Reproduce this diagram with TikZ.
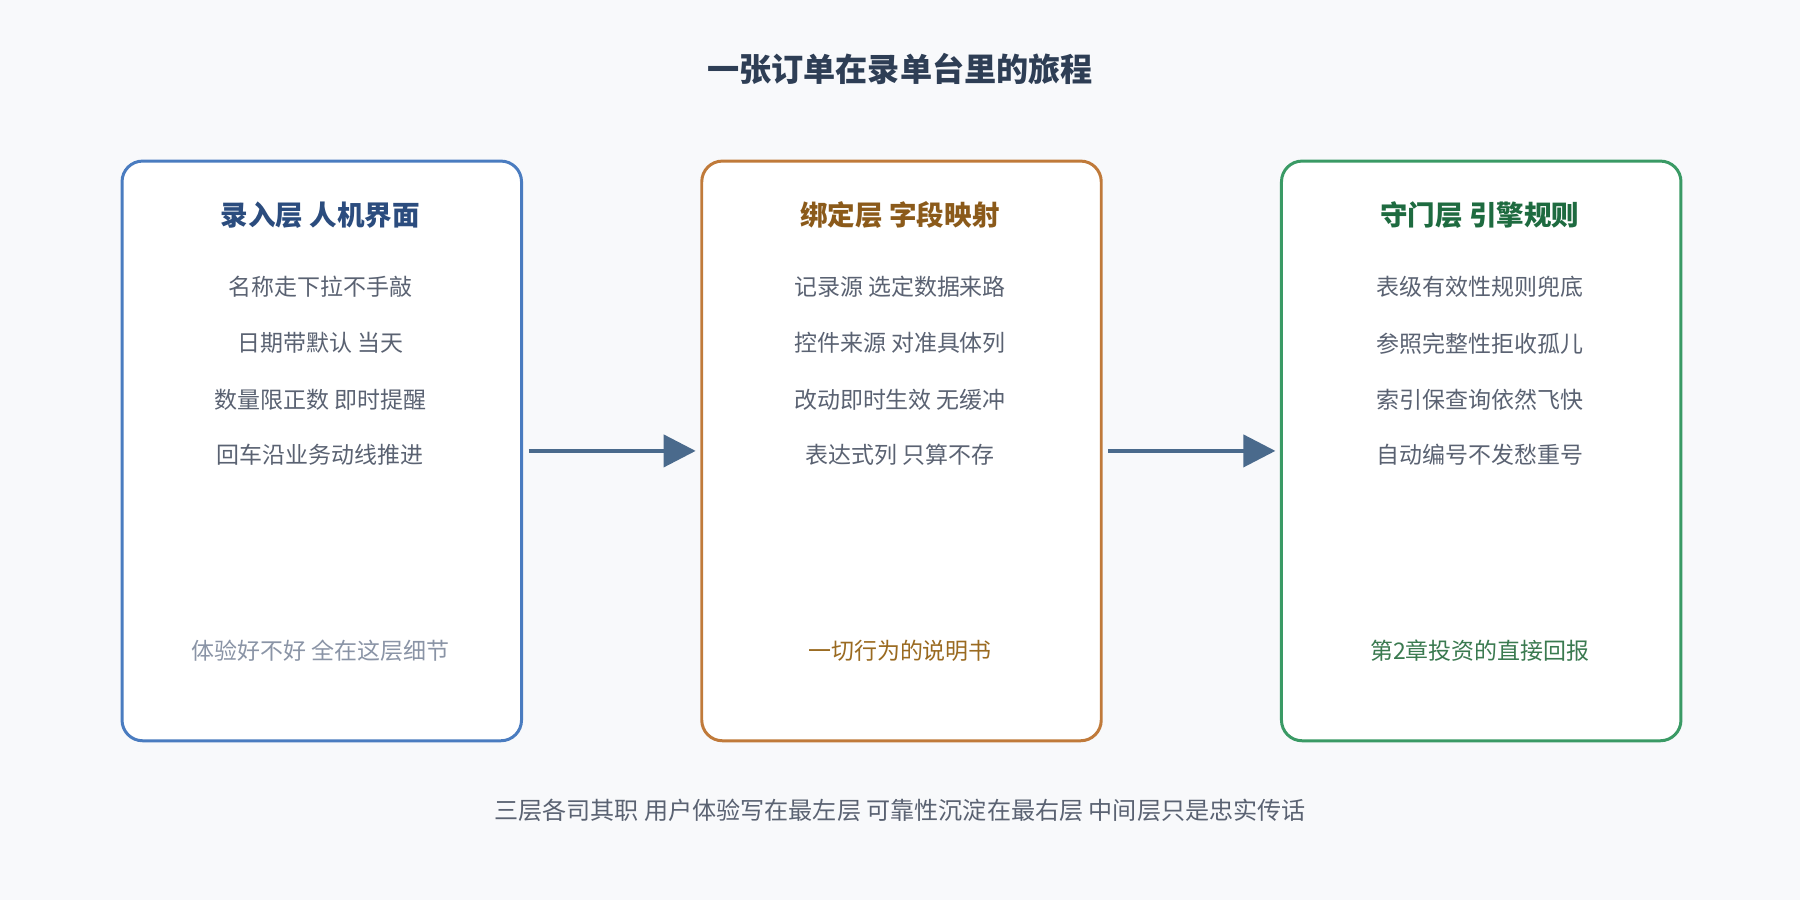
\documentclass[tikz,border=0pt]{standalone}
\usepackage{fontspec}
\setmainfont{Noto Sans CJK SC}
\usetikzlibrary{arrows.meta}
\definecolor{bg}{HTML}{F8F9FB}
\definecolor{bB}{HTML}{4A7CC0}\definecolor{tB}{HTML}{2B4C7E}
\definecolor{bO}{HTML}{C07A3A}\definecolor{tO}{HTML}{8B5A1A}
\definecolor{bG}{HTML}{3A9A65}\definecolor{tG}{HTML}{1E6B40}
\definecolor{txt}{HTML}{5A6272}
\definecolor{ttl}{HTML}{2E3E55}
\definecolor{nB}{HTML}{8A94A6}\definecolor{nO}{HTML}{9A6A20}\definecolor{nG}{HTML}{3A7A50}
\definecolor{arr}{HTML}{4A6A8C}
\tikzset{
 box/.style={draw=#1,line width=2.6pt,rounded corners=18pt,fill=white,minimum width=348pt,minimum height=505pt,anchor=north west},
 head/.style={font=\fontsize{24}{28}\selectfont\bfseries,text=#1},
 item/.style={font=\fontsize{20}{24}\selectfont,text=txt},
 note/.style={font=\fontsize{20}{24}\selectfont,text=#1},
 flow/.style={draw=arr,line width=3.5pt,-{Triangle[length=28pt,width=28pt]}}
}
\begin{document}
\begin{tikzpicture}[x=1pt,y=-1pt]
\useasboundingbox[fill=bg] (0,0) rectangle (1568,784);
\node[font=\fontsize{28}{32}\selectfont\bfseries,text=ttl] (title) at (784,60) {一张订单在录单台里的旅程};
\foreach \n/\x/\c/\h/\a/\b/\cc/\d/\nc/\nt in {
 L/105/B/录入层 人机界面/名称走下拉不手敲/日期带默认 当天/数量限正数 即时提醒/回车沿业务动线推进/nB/体验好不好 全在这层细节,
 M/610/O/绑定层 字段映射/记录源 选定数据来路/控件来源 对准具体列/改动即时生效 无缓冲/表达式列 只算不存/nO/一切行为的说明书,
 R/1115/G/守门层 引擎规则/表级有效性规则兜底/参照完整性拒收孤儿/索引保查询依然飞快/自动编号不发愁重号/nG/第2章投资的直接回报}{
 \node[box=b\c] (\n) at (\x,139) {};
 \node[head=t\c] (\n h) at (\x+174,187) {\h};
 \node[item] (\n1) at (\x+174,250) {\a};
 \node[item] (\n2) at (\x+174,299) {\b};
 \node[item] (\n3) at (\x+174,348) {\cc};
 \node[item] (\n4) at (\x+174,396) {\d};
 \node[note=\nc] (\n n) at (\x+174,567) {\nt};
}
\draw[flow] (L.east)++(5,0) -- ([xshift=-4pt]M.west);
\draw[flow] (M.east)++(5,0) -- ([xshift=-4pt]R.west);
\node[font=\fontsize{21}{25}\selectfont,text=txt] (foot) at (784,706) {三层各司其职 用户体验写在最左层 可靠性沉淀在最右层 中间层只是忠实传话};
\end{tikzpicture}
\end{document}
